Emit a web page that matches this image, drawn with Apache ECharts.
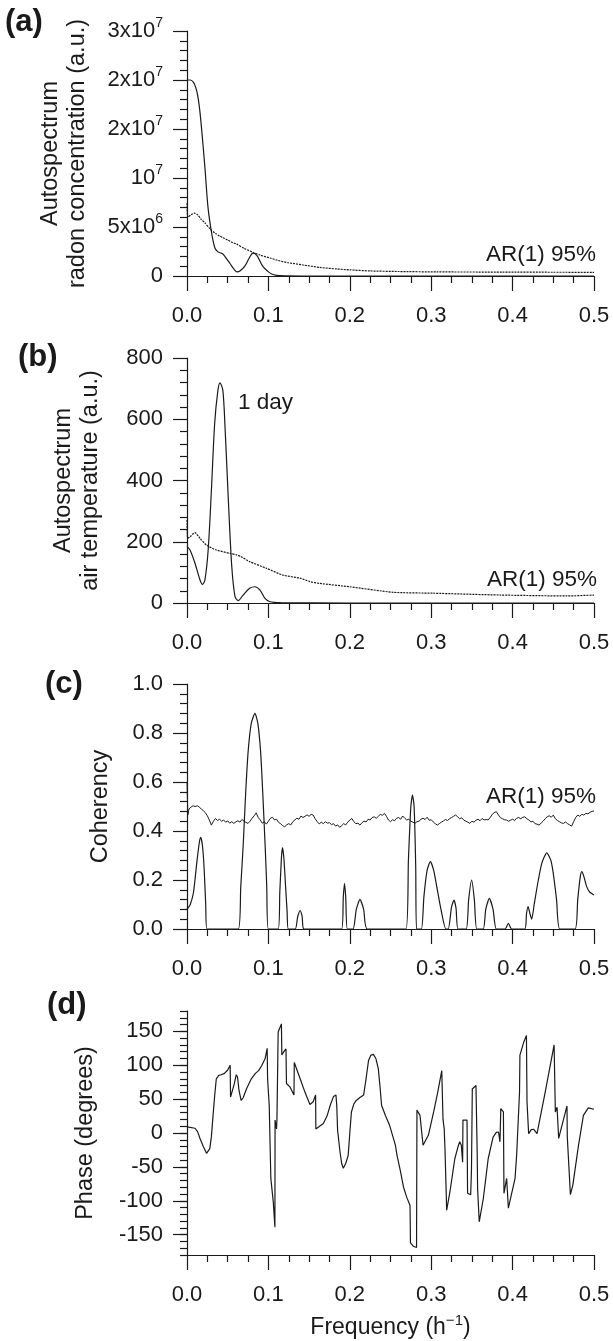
<!DOCTYPE html>
<html>
<head>
<meta charset="utf-8">
<script src="https://cdn.jsdelivr.net/npm/echarts@6/dist/echarts.min.js"></script>
<style>
  html, body { margin: 0; padding: 0; background: #fff; }
  #chart { width: 613px; height: 1341px; }
</style>
</head>
<body>
<div id="chart"></div>
<script>
// ---- data: [frequency (1/h), value] ----
var radonSpec = [[0,2.40e7],[0.004,2.40e7],[0.008,2.37e7],[0.011,2.30e7],[0.0135,2.19e7],[0.016,2.0e7],[0.0184,1.75e7],[0.022,1.33e7],[0.0258,8.4e6],[0.0307,5.0e6],[0.0344,3.4e6],[0.038,2.95e6],[0.0405,2.85e6],[0.044,2.7e6],[0.048,2.2e6],[0.053,1.5e6],[0.058,0.8e6],[0.0615,0.5e6],[0.065,0.6e6],[0.071,1.2e6],[0.077,2.3e6],[0.081,2.8e6],[0.086,2.5e6],[0.093,1.2e6],[0.099,0.6e6],[0.104,0.25e6],[0.11,0.08e6],[0.12,0.02e6],[0.15,0],[0.5,0]];
var radonAR = [[0,8.9e6],[0.001,7.2e6],[0.005,7.5e6],[0.009,7.7e6],[0.013,7.5e6],[0.017,7.0e6],[0.022,6.5e6],[0.028,5.8e6],[0.035,5.2e6],[0.040,4.9e6],[0.044,4.7e6],[0.046,4.6e6],[0.050,4.4e6],[0.056,4.1e6],[0.061,3.9e6],[0.07,3.4e6],[0.081,2.9e6],[0.09,2.55e6],[0.102,2.2e6],[0.112,1.9e6],[0.123,1.65e6],[0.1425,1.35e6],[0.163,1.05e6],[0.184,0.86e6],[0.2,0.75e6],[0.225,0.62e6],[0.26,0.55e6],[0.307,0.5e6],[0.388,0.48e6],[0.45,0.46e6],[0.5,0.45e6]];
var radonTicks = [['0',''],['5x10','6'],['10','7'],['2x10','7'],['2x10','7'],['3x10','7']];

var tempSpec = [[0,185],[0.0037,173],[0.0098,130],[0.016,75],[0.019,61],[0.022,75],[0.026,173],[0.030,369],[0.034,587],[0.038,695],[0.0405,719],[0.044,695],[0.0467,576],[0.0508,336],[0.055,119],[0.059,21],[0.063,8],[0.069,26],[0.077,48],[0.0835,53],[0.0897,42],[0.0958,15],[0.102,4],[0.115,1],[0.2,0],[0.5,0]];
var tempAR = [[0,271],[0.0008,212],[0.0037,216],[0.0098,230],[0.016,211],[0.024,189],[0.036,173],[0.053,162],[0.061,157],[0.066,152],[0.077,135],[0.098,113],[0.118,91],[0.139,81],[0.151,70],[0.163,64],[0.2,53],[0.253,35],[0.302,32],[0.385,26],[0.467,23],[0.5,26]];

var coherency = [[0,0.08],[0.004,0.10],[0.008,0.15],[0.012,0.27],[0.015,0.35],[0.0168,0.374],[0.019,0.34],[0.021,0.25],[0.023,0.10],[0.0245,0],
  [0.063,0],[0.066,0.17],[0.069,0.34],[0.072,0.55],[0.075,0.72],[0.079,0.84],[0.0835,0.88],[0.087,0.84],[0.0905,0.72],[0.093,0.56],[0.096,0.34],[0.098,0.17],[0.0999,0],
  [0.112,0],[0.114,0.15],[0.116,0.29],[0.1173,0.332],[0.119,0.29],[0.121,0.18],[0.123,0.07],[0.1245,0],
  [0.133,0],[0.136,0.05],[0.139,0.075],[0.1415,0.05],[0.1437,0],
  [0.190,0],[0.192,0.13],[0.1935,0.186],[0.195,0.13],[0.197,0],
  [0.204,0],[0.208,0.08],[0.2125,0.121],[0.217,0.08],[0.2215,0],
  [0.269,0],[0.272,0.28],[0.275,0.50],[0.277,0.547],[0.279,0.50],[0.281,0.25],[0.282,0],
  [0.288,0],[0.291,0.13],[0.295,0.24],[0.299,0.275],[0.303,0.24],[0.307,0.17],[0.312,0.08],[0.318,0],
  [0.321,0],[0.325,0.09],[0.328,0.118],[0.3305,0.085],[0.333,0],
  [0.343,0],[0.346,0.12],[0.3497,0.2],[0.353,0.12],[0.356,0],
  [0.364,0],[0.367,0.08],[0.3714,0.125],[0.376,0.08],[0.380,0],
  [0.3907,0],[0.3948,0.023],[0.399,0],
  [0.415,0],[0.417,0.06],[0.419,0.091],[0.4215,0.06],[0.4235,0.04],[0.4265,0.10],[0.4316,0.20],[0.436,0.27],[0.442,0.311],[0.447,0.28],[0.45,0.226],[0.454,0.12],[0.458,0],
  [0.4767,0],[0.480,0.12],[0.483,0.21],[0.485,0.234],[0.4875,0.215],[0.491,0.173],[0.495,0.15],[0.5,0.139]];
var coherencyAR = [[0,0.6],[0.001,0.465],[0.0025,0.49],[0.005,0.498],[0.0075,0.503],[0.010,0.500],[0.0125,0.503],[0.015,0.498],[0.0175,0.49],[0.020,0.483],[0.0225,0.475],[0.025,0.462],[0.0275,0.445],[0.030,0.424],[0.0325,0.44],[0.035,0.451],[0.0375,0.443],[0.040,0.448],[0.0425,0.44],[0.045,0.445],[0.0475,0.436],[0.050,0.441],[0.0525,0.432],[0.055,0.438],[0.0575,0.431],[0.060,0.437],[0.0625,0.442],[0.065,0.436],[0.0675,0.447],[0.070,0.44],[0.0725,0.435],[0.075,0.431],[0.0775,0.44],[0.080,0.452],[0.0825,0.462],[0.085,0.474],[0.0875,0.455],[0.090,0.445],[0.0925,0.432],[0.095,0.438],[0.0975,0.428],[0.100,0.44],[0.1025,0.452],[0.105,0.456],[0.1075,0.445],[0.110,0.448],[0.1125,0.435],[0.115,0.43],[0.1175,0.422],[0.120,0.417],[0.1225,0.425],[0.125,0.43],[0.1275,0.425],[0.130,0.438],[0.1325,0.445],[0.135,0.452],[0.1375,0.448],[0.140,0.461],[0.1425,0.455],[0.145,0.46],[0.1475,0.466],[0.150,0.46],[0.1525,0.468],[0.155,0.465],[0.1575,0.45],[0.160,0.438],[0.1625,0.429],[0.165,0.436],[0.1675,0.43],[0.170,0.438],[0.1725,0.432],[0.175,0.434],[0.1775,0.426],[0.180,0.43],[0.1825,0.42],[0.185,0.425],[0.1875,0.415],[0.190,0.422],[0.1925,0.43],[0.195,0.425],[0.1975,0.436],[0.200,0.445],[0.2025,0.451],[0.205,0.438],[0.2075,0.43],[0.210,0.432],[0.2125,0.424],[0.215,0.434],[0.2175,0.44],[0.220,0.437],[0.2225,0.448],[0.225,0.445],[0.2275,0.455],[0.230,0.458],[0.2325,0.452],[0.235,0.46],[0.2375,0.468],[0.240,0.464],[0.2425,0.472],[0.245,0.46],[0.2475,0.445],[0.250,0.438],[0.2525,0.446],[0.255,0.442],[0.2575,0.452],[0.260,0.455],[0.2625,0.448],[0.265,0.461],[0.2675,0.452],[0.270,0.445],[0.2725,0.448],[0.275,0.44],[0.2775,0.436],[0.280,0.431],[0.2825,0.438],[0.285,0.44],[0.2875,0.448],[0.290,0.452],[0.2925,0.447],[0.295,0.456],[0.2975,0.444],[0.300,0.446],[0.3025,0.437],[0.305,0.43],[0.3075,0.424],[0.310,0.43],[0.3125,0.436],[0.315,0.441],[0.3175,0.447],[0.320,0.443],[0.3225,0.45],[0.325,0.455],[0.3275,0.46],[0.330,0.465],[0.3325,0.458],[0.335,0.45],[0.3375,0.454],[0.340,0.445],[0.3425,0.44],[0.345,0.436],[0.3475,0.431],[0.350,0.44],[0.3525,0.436],[0.355,0.444],[0.3575,0.448],[0.360,0.442],[0.3625,0.451],[0.365,0.445],[0.3675,0.447],[0.370,0.445],[0.3725,0.455],[0.375,0.468],[0.3775,0.475],[0.380,0.479],[0.3825,0.466],[0.385,0.455],[0.3875,0.45],[0.390,0.446],[0.3925,0.445],[0.395,0.44],[0.3975,0.444],[0.400,0.448],[0.4025,0.443],[0.405,0.452],[0.4075,0.455],[0.410,0.45],[0.4125,0.456],[0.415,0.458],[0.4175,0.45],[0.420,0.445],[0.4225,0.437],[0.425,0.44],[0.4275,0.43],[0.430,0.428],[0.4325,0.424],[0.435,0.432],[0.4375,0.44],[0.440,0.45],[0.4425,0.458],[0.445,0.462],[0.4475,0.456],[0.450,0.465],[0.4525,0.45],[0.455,0.443],[0.4575,0.438],[0.460,0.433],[0.4625,0.431],[0.465,0.437],[0.4675,0.43],[0.470,0.425],[0.4725,0.42],[0.475,0.438],[0.4775,0.455],[0.480,0.465],[0.4825,0.46],[0.485,0.468],[0.4875,0.465],[0.490,0.472],[0.4925,0.47],[0.495,0.476],[0.4975,0.48],[0.500,0.482]];

var phase = [[0,9],[0.0098,7],[0.013,2],[0.016,-8],[0.02,-20],[0.024,-30],[0.026,-31],[0.028,-23],[0.030,-5],[0.032,26],[0.034,55],[0.036,80],[0.039,85],[0.042,86],[0.046,88],[0.050,93],[0.053,100],[0.0535,53],[0.055,53],[0.058,72],[0.0605,86],[0.062,83],[0.064,62],[0.0665,48],[0.069,52],[0.073,65],[0.079,80],[0.084,88],[0.088,92],[0.092,100],[0.096,110],[0.0985,125],[0.099,80],[0.101,41],[0.103,-67],[0.106,-102],[0.108,-139],[0.1082,19],[0.110,6],[0.1105,20],[0.112,149],[0.116,161],[0.1165,115],[0.119,120],[0.1216,124],[0.1222,73],[0.1265,68],[0.1314,56],[0.1318,104],[0.139,80],[0.145,60],[0.151,42],[0.155,46],[0.158,56],[0.1583,6],[0.1675,14],[0.172,25],[0.176,41],[0.180,54],[0.183,56],[0.184,40],[0.185,4],[0.188,-28],[0.190,-45],[0.192,-52],[0.195,-45],[0.198,-33],[0.200,0],[0.202,31],[0.205,43],[0.208,48],[0.212,52],[0.217,56],[0.220,80],[0.223,107],[0.226,115],[0.229,116],[0.232,110],[0.235,95],[0.237,70],[0.239,41],[0.244,25],[0.249,11],[0.256,-18],[0.258,-33],[0.262,-55],[0.266,-80],[0.270,-95],[0.274,-107],[0.2745,-162],[0.278,-167],[0.282,-169],[0.2825,34],[0.2843,30],[0.2862,26],[0.29,-18],[0.2966,-3],[0.303,31],[0.308,60],[0.313,92],[0.3145,20],[0.316,6],[0.317,-26],[0.319,-114],[0.323,-87],[0.329,-38],[0.333,-20],[0.335,-13],[0.337,-18],[0.3386,-43],[0.339,19],[0.344,19],[0.3447,-89],[0.3485,-91],[0.3495,-53],[0.3505,65],[0.355,70],[0.3565,-30],[0.357,-82],[0.359,-131],[0.364,-97],[0.37,-38],[0.376,-6],[0.38,1],[0.3827,1.5],[0.3845,-13],[0.3855,36],[0.3887,31],[0.3894,-89],[0.3927,-67],[0.3948,-111],[0.403,-67],[0.405,-32],[0.407,-30],[0.4085,60],[0.409,115],[0.4137,134],[0.417,144],[0.4177,46],[0.4197,-1],[0.423,5],[0.426,5.5],[0.43,-1],[0.44,60],[0.451,130],[0.4525,31],[0.4546,38],[0.4566,-8],[0.4668,40],[0.4672,-6],[0.471,-91],[0.474,-77],[0.481,-18],[0.487,26],[0.493,37],[0.5,35]];
var phaseTicks = [-150, -100, -50, 0, 50, 100, 150];

// ---- styling ----
var INK = '#1a1a1a';
var FONT = '"Liberation Sans", Arial, sans-serif';
var line = { color: INK, width: 1.2 };
var supRich = {
  n: { fontSize: 22, lineHeight: 30, fontFamily: FONT, color: INK },
  s: { fontSize: 14, lineHeight: 14, verticalAlign: 'top', fontFamily: FONT, color: INK }
};
var nameRich = {
  n: { fontSize: 23, lineHeight: 30, fontFamily: FONT, color: INK },
  s: { fontSize: 15, lineHeight: 15, verticalAlign: 'top', fontFamily: FONT, color: INK }
};

function freqAxis(i, withName) {
  var ax = {
    type: 'value', gridIndex: i, min: 0, max: 0.5, interval: 0.1,
    axisLine: { onZero: false, lineStyle: line },
    axisTick: { length: 15, lineStyle: line },
    minorTick: { show: true, splitNumber: 4, length: 7, lineStyle: line },
    splitLine: { show: false }, minorSplitLine: { show: false },
    axisLabel: { margin: 29, color: INK, fontSize: 22, fontFamily: FONT,
      formatter: function (v) { return v.toFixed(1); } }
  };
  if (withName) {
    ax.name = '{n|Frequency (h}{s|\u22121}{n|)}';
    ax.nameLocation = 'middle';
    ax.nameGap = 58;
    ax.nameTextStyle = { rich: nameRich };
  }
  return ax;
}

function valAxis(i, opts) {
  return Object.assign({
    type: 'value', gridIndex: i, position: 'left',
    axisLine: { show: true, onZero: false, lineStyle: line },
    axisTick: { show: true, length: 14, lineStyle: line },
    minorTick: { show: true, splitNumber: 5, length: 7, lineStyle: line },
    splitLine: { show: false }, minorSplitLine: { show: false },
    axisLabel: { margin: 24, color: INK, fontSize: 22, fontFamily: FONT },
    nameLocation: 'middle',
    nameTextStyle: { color: INK, fontSize: 23.5, lineHeight: 27, fontFamily: FONT }
  }, opts);
}

function curve(i, data, opts) {
  return Object.assign({
    type: 'line', xAxisIndex: i, yAxisIndex: i, data: data,
    showSymbol: false, symbol: 'none', animation: false,
    lineStyle: { color: INK, width: 1.2 }
  }, opts);
}

function txt(s, x, y, font, align) {
  return { type: 'text', x: x, y: y, style: { text: s, font: font, fill: INK,
    align: align || 'left', verticalAlign: 'middle' } };
}

var chart = echarts.init(document.getElementById('chart'));
var option = {
  animation: false,
  backgroundColor: '#fff',
  grid: [
    { left: 187, width: 407, top: 31, height: 245 },
    { left: 187, width: 407, top: 358, height: 245 },
    { left: 187, width: 407, top: 684, height: 245 },
    { left: 187, width: 407, top: 1011, height: 244 }
  ],
  xAxis: [freqAxis(0), freqAxis(1), freqAxis(2), freqAxis(3, true)],
  yAxis: [
    valAxis(0, { min: 0, max: 3e7, interval: 6e6,
      name: 'Autospectrum\nradon concentration (a.u.)', nameGap: 96,
      axisLabel: { margin: 24, rich: supRich, formatter: function (v) {
        var t = radonTicks[Math.round(v / 6e6)];
        return '{n|' + t[0] + '}' + (t[1] ? '{s|' + t[1] + '}' : '');
      } } }),
    valAxis(1, { min: 0, max: 800, interval: 200,
      name: 'Autospectrum\nair temperature (a.u.)', nameGap: 83 }),
    valAxis(2, { min: 0, max: 1, interval: 0.2,
      name: 'Coherency', nameGap: 73,
      axisLabel: { margin: 24, color: INK, fontSize: 22, fontFamily: FONT,
        formatter: function (v) { return v.toFixed(1); } } }),
    valAxis(3, { min: -180, max: 180, interval: 10,
      name: 'Phase (degrees)', nameGap: 88,
      axisTick: { show: true, length: 7, lineStyle: line },
      minorTick: { show: false },
      axisLabel: { show: false } }),
    {
      type: 'value', gridIndex: 3, position: 'left', min: -180, max: 180,
      axisLine: { show: false },
      axisTick: { show: true, length: 14, customValues: phaseTicks, lineStyle: line },
      splitLine: { show: false },
      axisLabel: { customValues: phaseTicks, margin: 24, color: INK, fontSize: 22, fontFamily: FONT }
    }
  ],
  series: [
    curve(0, radonSpec, { smooth: 0.3 }),
    curve(0, radonAR, { smooth: 0.2, lineStyle: { color: INK, width: 1.2, type: [2, 1] } }),
    curve(1, tempSpec, { smooth: 0.3 }),
    curve(1, tempAR, { smooth: 0.2, lineStyle: { color: INK, width: 1.2, type: [2, 1] } }),
    curve(2, coherency, { smooth: 0.2 }),
    curve(2, coherencyAR, { lineStyle: { color: INK, width: 1 } }),
    curve(3, phase)
  ],
  graphic: [
    txt('(a)', 5, 22, 'bold 31px ' + FONT),
    txt('(b)', 18, 357, 'bold 31px ' + FONT),
    txt('(c)', 45, 684, 'bold 31px ' + FONT),
    txt('(d)', 47, 1005, 'bold 31px ' + FONT),
    txt('AR(1) 95%', 596, 255, '22.5px ' + FONT, 'right'),
    txt('AR(1) 95%', 597, 580, '22.5px ' + FONT, 'right'),
    txt('AR(1) 95%', 596, 797, '22.5px ' + FONT, 'right'),
    txt('1 day', 238, 403, '22.5px ' + FONT)
  ]
};
chart.setOption(option);
</script>
</body>
</html>
